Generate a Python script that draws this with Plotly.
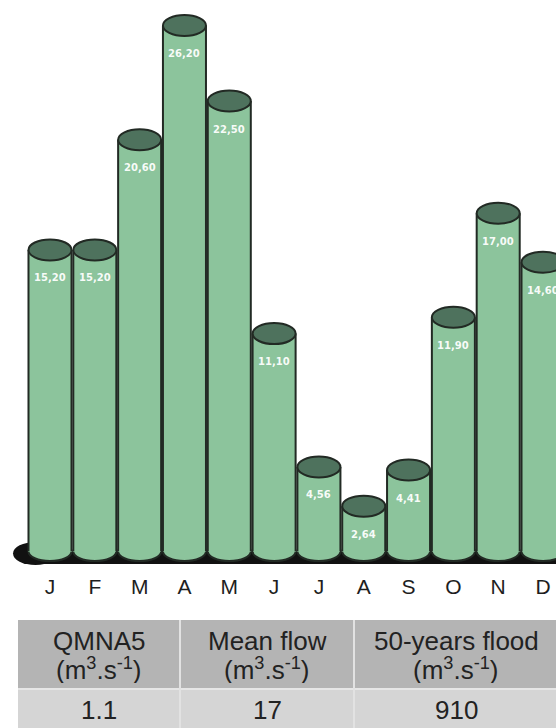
import plotly.graph_objects as go

# ---------------- data ----------------
months = ["J", "F", "M", "A", "M", "J", "J", "A", "S", "O", "N", "D"]
flows = [15.20, 15.20, 20.60, 26.20, 22.50, 11.10, 4.56, 2.64, 4.41, 11.90, 17.00, 14.60]
flow_labels = [f"{v:.2f}".replace(".", ",") for v in flows]

table_headers = ["QMNA5", "Mean flow", "50-years flood"]
table_unit = "(m<sup>3</sup>.s<sup>-1</sup>)"
table_values = ["1.1", "17", "910"]

# ---------------- geometry / style ----------------
W, H = 556, 728
PLOT_BOTTOM_PX = 572
ZERO_PX = 560
PX_PER_UNIT = 20.4
PITCH = 44.82
FIRST_CENTER_PX = 50

y_top = ZERO_PX / PX_PER_UNIT
y_bot = -(PLOT_BOTTOM_PX - ZERO_PX) / PX_PER_UNIT
x_lo = -FIRST_CENTER_PX / PITCH
x_hi = (W - FIRST_CENTER_PX) / PITCH

RX = 0.48
RY_TOP = 10.5 / PX_PER_UNIT
RY_BOT = 9.5 / PX_PER_UNIT
BASE = 8.5 / PX_PER_UNIT

BODY = "#8cc49c"
TOP = "#4e725d"
EDGE = "#222a24"

# table layout (pixels)
TABLE_LEFT, TABLE_RIGHT = 18, 560
COL_EDGES = [18, 180, 354, 560]
COL_CENTERS = [99, 267, 456]
HEAD_TOP, HEAD_BOTTOM, ROW_BOTTOM = 620, 689, 740
HEAD_LINE1_Y, HEAD_LINE2_Y, VALUE_Y = 641, 669, 710
TABLE_FONT = dict(family="Liberation Sans", size=26, color="#222222")


def px_to_x(p):
    return (p - FIRST_CENTER_PX) / PITCH


def px_to_y(p):
    return (ZERO_PX - p) / PX_PER_UNIT


def ppx(p):  # paper x from pixel
    return p / W


def ppy(p):  # paper y from pixel
    return (H - p) / H


xs = list(range(len(months)))

fig = go.Figure()

fig.add_trace(go.Bar(
    x=xs, y=[v - BASE for v in flows], base=BASE, width=2 * RX,
    marker=dict(color=BODY, line=dict(width=0)),
    hoverinfo="skip", showlegend=False,
))

shapes = []
# black floor shadow
shapes.append(dict(type="circle", xref="x", yref="y", layer="below",
                   x0=px_to_x(13), x1=px_to_x(58), y0=px_to_y(565), y1=px_to_y(542),
                   fillcolor="#111111", line=dict(width=0)))
shapes.append(dict(type="rect", xref="x", yref="y", layer="below",
                   x0=px_to_x(35), x1=x_hi + 1, y0=px_to_y(564), y1=px_to_y(552),
                   fillcolor="#111111", line=dict(width=0)))

for i, v in zip(xs, flows):
    shapes.append(dict(type="circle", xref="x", yref="y", layer="below",
                       x0=i - RX, x1=i + RX, y0=BASE - RY_BOT, y1=BASE + RY_BOT,
                       fillcolor=BODY, line=dict(color=EDGE, width=2)))
for i, v in zip(xs, flows):
    shapes.append(dict(type="path", xref="x", yref="y", layer="above",
                       path=f"M {i-RX},{BASE} L {i-RX},{v} M {i+RX},{v} L {i+RX},{BASE}",
                       line=dict(color=EDGE, width=2)))
    shapes.append(dict(type="circle", xref="x", yref="y", layer="above",
                       x0=i - RX, x1=i + RX, y0=v - RY_TOP, y1=v + RY_TOP,
                       fillcolor=TOP, line=dict(color=EDGE, width=2)))

annotations = []
for i, v, t in zip(xs, flows, flow_labels):
    annotations.append(dict(x=i, y=v, xref="x", yref="y", text=t, showarrow=False,
                            yshift=-28, font=dict(family="DejaVu Sans", size=10,
                                                  color="rgba(255,255,255,0.95)", weight="bold")))

# ---------------- table (header + one value row) ----------------
shapes.append(dict(type="rect", xref="paper", yref="paper",
                   x0=ppx(TABLE_LEFT), x1=ppx(TABLE_RIGHT), y0=ppy(HEAD_BOTTOM), y1=ppy(HEAD_TOP),
                   fillcolor="#b4b4b4", line=dict(width=0)))
shapes.append(dict(type="rect", xref="paper", yref="paper",
                   x0=ppx(TABLE_LEFT), x1=ppx(TABLE_RIGHT), y0=ppy(ROW_BOTTOM), y1=ppy(HEAD_BOTTOM),
                   fillcolor="#d5d5d5", line=dict(width=0)))
shapes.append(dict(type="line", xref="paper", yref="paper",
                   x0=ppx(TABLE_LEFT), x1=ppx(TABLE_RIGHT), y0=ppy(HEAD_BOTTOM), y1=ppy(HEAD_BOTTOM),
                   line=dict(color="#e6e6e6", width=2)))
for e in COL_EDGES[1:-1]:
    shapes.append(dict(type="line", xref="paper", yref="paper",
                       x0=ppx(e), x1=ppx(e), y0=ppy(ROW_BOTTOM), y1=ppy(HEAD_TOP),
                       line=dict(color="#e2e2e2", width=2)))

for cxp, h, val in zip(COL_CENTERS, table_headers, table_values):
    cx = ppx(cxp)
    annotations.append(dict(x=cx, y=ppy(HEAD_LINE1_Y), xref="paper", yref="paper",
                            text=h, showarrow=False, xanchor="center", yanchor="middle",
                            height=28, font=TABLE_FONT))
    annotations.append(dict(x=cx, y=ppy(HEAD_LINE2_Y), xref="paper", yref="paper",
                            text=table_unit, showarrow=False, xanchor="center", yanchor="middle",
                            height=28, font=TABLE_FONT))
    annotations.append(dict(x=cx, y=ppy(VALUE_Y), xref="paper", yref="paper",
                            text=val, showarrow=False, xanchor="center", yanchor="middle",
                            font=TABLE_FONT))

fig.update_layout(
    width=W, height=H,
    margin=dict(l=0, r=0, t=0, b=0),
    paper_bgcolor="white", plot_bgcolor="white",
    bargap=0,
    shapes=shapes, annotations=annotations,
    xaxis=dict(range=[x_lo, x_hi], domain=[0, 1], tickvals=xs, ticktext=months,
               showgrid=False, zeroline=False, showline=False, ticks="",
               tickfont=dict(family="Liberation Sans", size=21, color="#1e1e1e")),
    yaxis=dict(range=[y_bot, y_top], domain=[(H - PLOT_BOTTOM_PX) / H, 1], visible=False,
               showgrid=False, zeroline=False),
)

fig.write_html("out.html", config={"displayModeBar": False},
               post_script="document.body.style.margin='0px';")
